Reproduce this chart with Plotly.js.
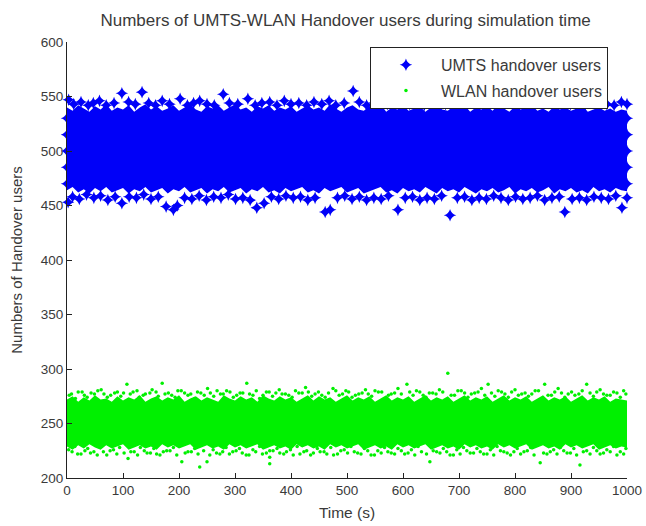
<!DOCTYPE html>
<html>
<head>
<meta charset="utf-8">
<script src="https://cdn.plot.ly/plotly-3.0.1.min.js"></script>
<style>html,body{margin:0;padding:0;background:#fff;}#chart{width:646px;height:526px;}</style>
</head>
<body>
<div id="chart"></div>
<script>
// Dense core of each cloud: lower / upper envelope sampled every 10 s
const envT = [0,10,20,30,40,50,60,70,80,90,100,110,120,130,140,150,160,170,180,190,200,210,220,230,240,250,260,270,280,290,300,310,320,330,340,350,360,370,380,390,400,410,420,430,440,450,460,470,480,490,500,510,520,530,540,550,560,570,580,590,600,610,620,630,640,650,660,670,680,690,700,710,720,730,740,750,760,770,780,790,800,810,820,830,840,850,860,870,880,890,900,910,920,930,940,950,960,970,980,990,1000];
const umtsHi = [540,537,542,539,536,541,538,543,537,540,538,542,536,540,543,538,541,537,539,542,537,540,543,538,536,541,539,542,537,540,543,538,540,536,541,539,542,537,540,538,541,536,539,542,538,540,537,543,539,536,540,542,538,537,541,539,543,536,540,538,542,537,539,541,536,540,543,538,537,541,539,542,536,540,538,541,537,543,539,536,541,538,540,542,537,539,536,541,538,540,537,539,542,536,538,540,537,539,536,538,537];
const umtsLo = [464,467,462,465,461,466,463,467,462,464,466,461,465,463,467,462,464,466,461,465,463,467,462,464,466,461,465,463,467,462,464,466,461,465,463,467,462,464,461,466,463,465,467,462,464,461,466,463,465,467,462,464,466,461,463,465,467,462,464,461,466,463,465,462,467,464,461,466,463,465,462,467,464,461,465,463,466,462,464,467,461,465,463,466,462,464,467,461,465,463,466,462,464,461,467,463,465,462,466,464,463];
const wlanHi = [272,275,270,274,271,276,272,273,270,275,271,274,272,276,270,273,275,271,274,272,276,270,273,275,271,274,272,270,276,273,271,275,272,274,270,276,273,271,275,272,274,270,273,276,271,275,272,274,270,273,276,271,274,272,275,270,273,276,271,274,272,275,270,273,276,271,274,272,275,270,273,276,271,274,272,275,270,273,276,271,274,272,275,270,273,276,271,274,272,275,270,273,276,271,274,272,275,270,273,272,271];
const wlanLo = [229,226,230,227,231,228,226,230,227,229,231,226,228,230,227,229,226,231,228,230,227,229,231,226,228,230,227,229,226,231,228,230,227,229,231,226,228,230,227,229,226,231,228,230,227,229,226,231,228,230,227,229,231,226,228,230,227,229,226,231,228,230,227,229,231,226,228,230,227,229,226,231,228,230,227,229,226,231,228,230,227,229,231,226,228,230,227,229,226,231,228,230,227,229,231,226,228,230,227,229,228];

// Individual UMTS points visible at the edges of the cloud
const umtsX = [3,12,25,38,47,58,70,84,98,110,122,134,146,158,170,183,202,215,226,237,250,263,279,290,305,323,336,348,362,375,388,400,414,428,441,455,468,480,495,511,522,535,548,560,572,585,598,612,625,638,650,663,676,690,703,716,729,742,755,768,781,794,808,821,834,847,860,873,886,899,912,925,938,951,964,977,990,1000,
  2,10,22,35,48,60,73,86,98,111,124,137,150,163,177,190,197,210,223,236,249,262,275,288,301,314,327,339,352,365,378,391,404,417,430,443,461,470,483,496,509,522,535,548,561,574,591,604,617,630,643,656,669,684,697,710,723,736,749,762,775,788,801,814,827,840,853,866,879,889,902,915,928,941,954,967,980,991,1000,
  0,0,0,0,0,1000,1000,1000,1000,1000];
const umtsY = [547,543,545,542,544,546,542,544,553,545,543,554,544,542,546,543,548,542,544,546,543,542,552,544,543,548,542,544,545,542,546,543,544,542,545,543,546,542,544,555,545,542,544,546,543,542,545,543,547,542,544,545,543,542,546,544,542,545,543,546,542,544,545,543,542,547,544,542,545,543,546,542,544,545,543,542,545,543,
  453,458,456,460,457,459,455,458,452,458,457,460,456,458,449,446,450,457,456,459,455,458,457,460,456,457,455,448,452,458,456,459,457,458,455,457,444,446,457,459,456,458,455,457,456,459,446,457,458,455,457,456,459,441,457,458,455,457,456,459,457,455,458,456,457,459,455,457,458,444,456,457,455,458,457,456,459,448,457,
  470,485,500,515,530,470,485,500,515,530];

// Individual WLAN points visible at the edges of the cloud
const wlanX = [4,15,27,36,49,61,72,85,96,107,118,129,140,152,163,170,181,193,204,216,228,239,251,262,274,285,297,309,321,332,344,356,367,379,390,402,414,426,437,449,461,475,486,498,509,521,533,544,556,568,579,591,607,618,630,641,653,665,680,692,704,716,728,740,752,764,776,788,800,812,824,836,853,865,877,889,901,914,928,940,952,964,976,988,998,
  8,20,31,43,55,66,78,90,101,113,125,136,148,159,175,187,198,210,221,233,245,256,268,279,291,303,314,326,338,350,361,373,384,396,408,420,431,443,455,467,480,492,503,515,527,538,550,562,574,585,597,612,624,636,647,659,671,686,698,710,722,734,746,758,770,782,794,806,818,830,842,859,871,883,895,907,920,934,946,958,970,982,994,
  3,14,25,37,48,59,71,83,94,109,120,131,143,155,166,178,190,205,216,228,237,250,261,273,284,296,308,320,332,344,356,362,362,362,375,387,399,411,423,435,447,459,471,483,495,507,519,531,543,555,567,579,591,603,615,627,648,660,672,684,696,708,720,732,744,756,768,780,792,804,816,828,845,857,869,881,893,905,916,928,940,952,964,976,988,998,
  9,19,32,42,54,65,77,89,102,114,126,138,149,160,172,184,196,211,222,234,244,255,267,278,290,302,313,325,337,349,368,380,392,404,416,428,440,452,464,476,489,501,513,525,537,549,561,573,585,597,609,621,633,642,654,666,678,690,702,714,726,738,750,762,774,786,798,810,822,834,851,863,875,887,899,910,922,934,946,958,970,982,994];
const wlanY = [276,273,279,274,277,281,274,278,275,286,279,274,277,281,275,287,278,274,280,276,273,278,282,275,277,280,274,278,287,276,273,279,275,281,277,274,278,283,275,279,274,282,276,280,274,277,281,275,279,273,277,282,286,276,279,274,278,281,296,276,280,274,278,282,286,275,279,274,281,277,275,280,286,276,282,274,279,277,286,275,281,276,279,274,277,
  277,279,276,278,280,277,276,279,278,277,280,276,278,279,277,276,280,278,277,279,276,278,280,277,279,276,278,277,280,276,279,278,277,276,280,278,279,277,276,278,280,277,279,276,278,277,280,279,276,278,277,279,280,276,278,277,279,276,280,278,277,279,276,278,280,277,279,276,278,277,280,276,279,278,277,276,280,278,279,277,276,278,280,
  226,229,222,227,224,229,221,226,228,218,224,228,223,227,221,225,228,215,224,227,210,215,226,222,228,224,227,221,226,229,223,213,219,225,227,222,226,229,224,221,227,224,228,222,226,229,223,227,221,225,228,223,227,222,226,229,215,224,227,221,226,228,223,227,222,226,229,224,221,227,224,228,214,222,226,228,223,227,212,225,228,222,226,229,224,227,
  224,222,225,223,221,224,225,222,223,224,221,225,223,222,224,225,221,223,224,222,225,221,223,224,222,225,223,221,224,222,225,223,224,221,222,225,223,224,222,221,225,223,224,222,225,221,223,224,222,225,223,221,224,222,225,223,224,221,222,225,223,224,222,221,225,223,224,222,225,221,223,224,222,225,223,221,224,222,225,223,224,221,222];

const BLUE = '#0000f8';
const GREEN = '#00f000';

const traces = [
  {x: envT, y: umtsLo, mode: 'lines', line: {width: 0, color: BLUE}, showlegend: false, hoverinfo: 'skip', legendgroup: 'u'},
  {x: envT, y: umtsHi, mode: 'lines', line: {width: 0, color: BLUE}, fill: 'tonexty', fillcolor: BLUE, showlegend: false, hoverinfo: 'skip', legendgroup: 'u'},
  {x: envT, y: wlanLo, mode: 'lines', line: {width: 0, color: GREEN}, showlegend: false, hoverinfo: 'skip', legendgroup: 'w'},
  {x: envT, y: wlanHi, mode: 'lines', line: {width: 0, color: GREEN}, fill: 'tonexty', fillcolor: GREEN, showlegend: false, hoverinfo: 'skip', legendgroup: 'w'},
  {x: umtsX, y: umtsY, mode: 'markers', name: 'UMTS handover users', legendgroup: 'u', cliponaxis: false,
   marker: {symbol: 'star-diamond', size: 9, color: BLUE, line: {width: 0}}},
  {x: wlanX, y: wlanY, mode: 'markers', name: 'WLAN handover users', legendgroup: 'w', cliponaxis: false,
   marker: {symbol: 'circle', size: 3.5, color: GREEN, line: {width: 0}}}
];

const txt = '#3a3a3a';
const layout = {
  width: 646, height: 526,
  margin: {l: 67, r: 19, t: 42, b: 48, pad: 0},
  paper_bgcolor: '#fff', plot_bgcolor: '#fff',
  font: {family: 'Arial, "Liberation Sans", sans-serif', color: txt, size: 13},
  title: {text: 'Numbers of UMTS-WLAN Handover users during simulation time', font: {size: 17, color: txt},
          x: 0.535, xref: 'container', xanchor: 'center', y: 0.962, yref: 'container', yanchor: 'middle'},
  xaxis: {range: [0, 1000], tickvals: [0,100,200,300,400,500,600,700,800,900,1000], showgrid: false, zeroline: false,
          showline: true, linecolor: '#222', linewidth: 1, ticks: 'inside', ticklen: 5, tickcolor: '#222',
          tickfont: {size: 13.5, color: txt},
          title: {text: 'Time (s)', font: {size: 15.5, color: txt}, standoff: 9}},
  yaxis: {range: [200, 600], tickvals: [200,250,300,350,400,450,500,550,600], showgrid: false, zeroline: false,
          showline: true, linecolor: '#222', linewidth: 1, ticks: 'inside', ticklen: 5, tickcolor: '#222',
          tickfont: {size: 13.5, color: txt},
          title: {text: 'Numbers of Handover users', font: {size: 15, color: txt}, standoff: 14}},
  legend: {x: 0.541, y: 0.989, xanchor: 'left', yanchor: 'top', bgcolor: '#fff', bordercolor: '#222', borderwidth: 1,
           font: {size: 16, color: txt}, itemwidth: 60, traceorder: 'grouped', tracegroupgap: 2},
  showlegend: true
};

Plotly.newPlot('chart', traces, layout, {staticPlot: true, displayModeBar: false});
</script>
</body>
</html>
